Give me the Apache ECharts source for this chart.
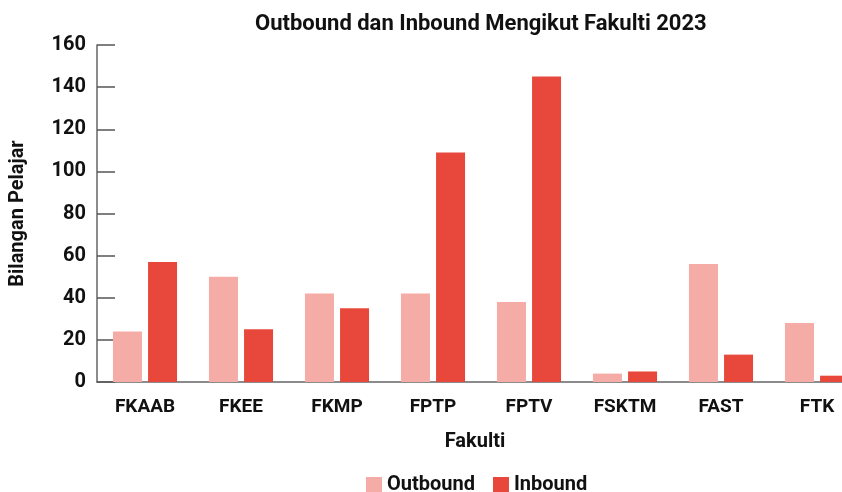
<!DOCTYPE html>
<html>
<head>
<meta charset="utf-8">
<script src="https://cdn.jsdelivr.net/npm/echarts@6/dist/echarts.min.js"></script>
<style>html,body{margin:0;padding:0;background:#fff}#c{width:842px;height:492px}</style>
</head>
<body>
<div id="c"></div>
<script>
var categories = ['FKAAB','FKEE','FKMP','FPTP','FPTV','FSKTM','FAST','FTK'];
var outbound = [24, 50, 42, 42, 38, 4, 56, 28];
var inbound = [57, 25, 35, 109, 145, 5, 13, 3];
var yTicks = {min: 0, max: 160, interval: 20};

var chart = echarts.init(document.getElementById('c'), null, {renderer: 'canvas'});
var font = 'Roboto';
chart.setOption({
  animation: false,
  title: {
    text: 'Outbound dan Inbound Mengikut Fakulti 2023',
    left: 250, top: 8,
    textStyle: {fontFamily: font, fontWeight: 'bold', fontSize: 22, color: '#111'}
  },
  legend: {
    data: ['Outbound', 'Inbound'],
    top: 475, left: 366,
    itemWidth: 16, itemHeight: 16, itemGap: 18,
    icon: 'rect',
    padding: 0,
    textStyle: {fontFamily: font, fontWeight: 'bold', fontSize: 20, color: '#111'}
  },
  grid: {left: 97, top: 45, bottom: 110, width: 768, containLabel: false, outerBoundsMode: 'none'},
  xAxis: {
    type: 'category',
    data: categories,
    name: 'Fakulti',
    nameLocation: 'middle',
    nameGap: 50,
    nameTextStyle: {fontFamily: font, fontWeight: 'bold', fontSize: 20, color: '#111', padding: [0, 12, 0, 0]},
    axisLine: {lineStyle: {color: '#666', width: 1.5}},
    axisTick: {show: false},
    axisLabel: {fontFamily: font, fontWeight: 'bold', fontSize: 19, color: '#111', margin: 16}
  },
  yAxis: {
    type: 'value',
    min: yTicks.min, max: yTicks.max, interval: yTicks.interval,
    name: 'Bilangan Pelajar',
    nameLocation: 'middle',
    nameGap: 69,
    nameTextStyle: {fontFamily: font, fontWeight: 'bold', fontSize: 20, color: '#111'},
    axisLine: {show: true, lineStyle: {color: '#666', width: 1.5}},
    axisTick: {show: true, inside: true, length: 18, lineStyle: {color: '#555', width: 1.5}},
    splitLine: {show: false},
    axisLabel: {fontFamily: font, fontWeight: 'bold', fontSize: 20, color: '#111', margin: 11}
  },
  series: [
    {name: 'Outbound', type: 'bar', data: outbound, barWidth: 29, barGap: '21%',
     itemStyle: {color: '#F5ACA6'}},
    {name: 'Inbound', type: 'bar', data: inbound, barWidth: 29,
     itemStyle: {color: '#E8483B'}}
  ]
});
</script>
</body>
</html>
